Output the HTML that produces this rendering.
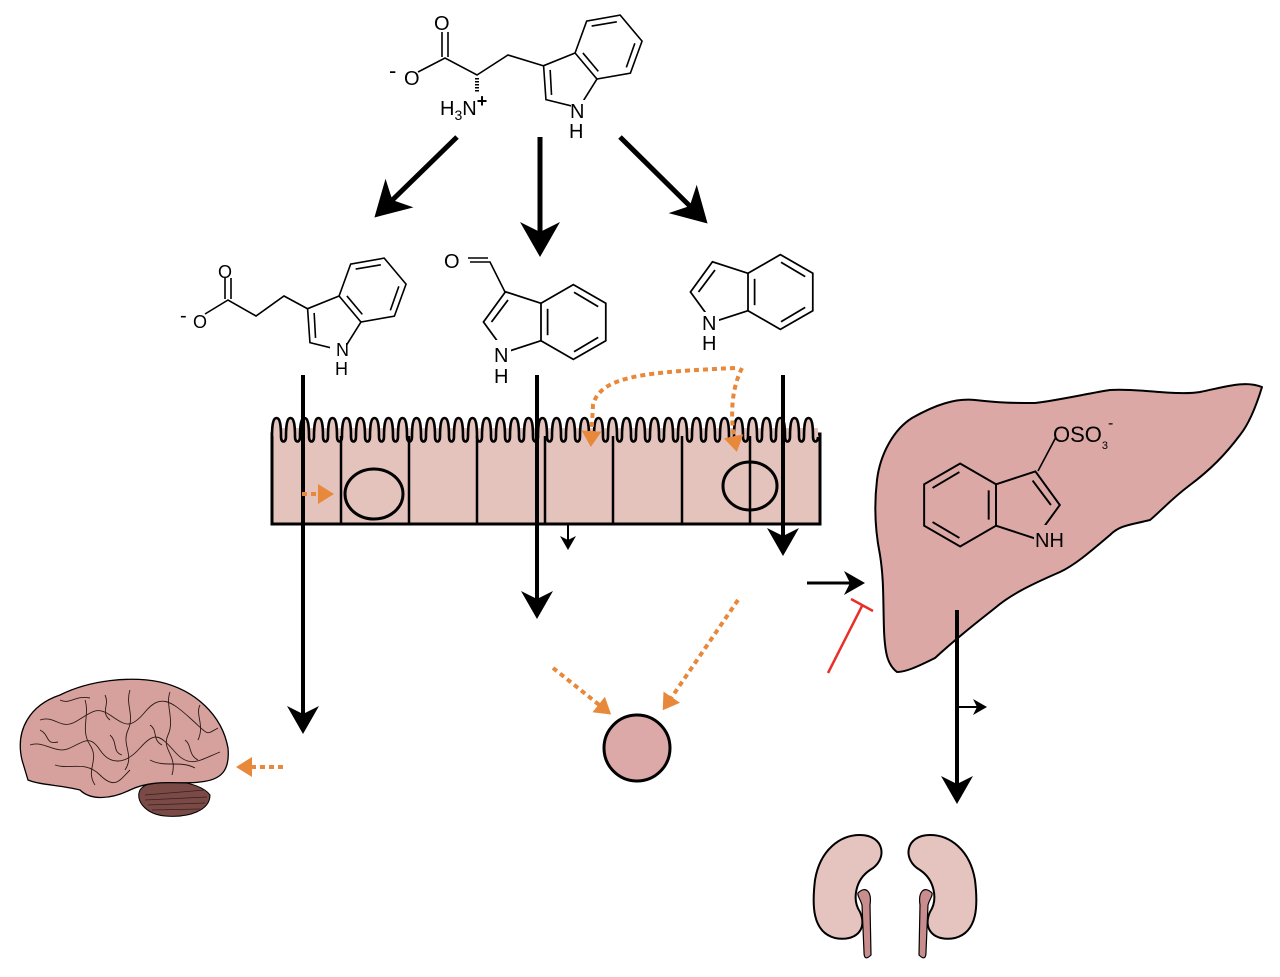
<!DOCTYPE html>
<html><head><meta charset="utf-8"><style>
html,body{margin:0;padding:0;background:#fff}
svg{display:block}
text{font-family:"Liberation Sans",sans-serif}
</style></head><body>
<svg width="1280" height="977" viewBox="0 0 1280 977" xmlns="http://www.w3.org/2000/svg">
<defs>
<g id="indole" fill="none" stroke="#000" stroke-width="1.6">
  <path d="M0,-17 L29.4,-34 L58.9,-17 L58.9,17 L29.4,34 L0,17 Z"/>
  <path d="M0,-17 L-32.3,-27.5 L-52.3,0 L-32.3,27.5 L0,17"/>
  <line x1="6" y1="-12" x2="6" y2="12"/>
  <line x1="30" y1="-27" x2="52" y2="-14"/>
  <line x1="52" y1="14" x2="30" y2="27"/>
  <line x1="-30" y1="-20" x2="-45" y2="0"/>
</g>
<path id="vil" d="M0,437 C0,425 1,418 4.5,418 C8,418 9,425 9,437 C9,443 14,443 14,437" fill="#e4c3bc" stroke="#000" stroke-width="2.6"/>
<marker id="ah" markerWidth="10" markerHeight="10" refX="6" refY="5" orient="auto" markerUnits="strokeWidth"><path d="M0,1 L7,5 L0,9 L2,5 Z" fill="#000"/></marker>
<marker id="ahs" markerWidth="10" markerHeight="10" refX="6" refY="5" orient="auto" markerUnits="strokeWidth"><path d="M0,1 L7,5 L0,9 L2,5 Z" fill="#000"/></marker>
<marker id="oh" markerWidth="6" markerHeight="6" refX="3" refY="3" orient="auto" markerUnits="strokeWidth"><path d="M0,0.5 L4,3 L0,5.5 Z" fill="#e8883a"/></marker>
</defs>

<!-- Tryptophan -->
<g transform="translate(586,66) rotate(-40)"><use href="#indole"/></g>
<g fill="none" stroke="#000" stroke-width="1.6">
<path d="M544,66 L508,55 L477,75 L445,58 L418,72"/>
<line x1="442" y1="57" x2="442" y2="32"/><line x1="448" y1="57" x2="448" y2="32"/>
<path d="M477,78 L477,92" stroke-dasharray="1.5 1.5" stroke-width="4"/>
</g>
<text x="434" y="30" font-size="20">O</text>
<text x="404" y="85" font-size="20">O</text>
<text x="389" y="78" font-size="22">-</text>
<text x="440" y="115" font-size="20">H<tspan font-size="14" dy="5">3</tspan><tspan dy="-5">N</tspan><tspan font-size="18" dy="-8" font-weight="bold">+</tspan></text>
<rect x="571" y="100" width="16" height="20" fill="#fff"/>
<text x="570" y="118" font-size="20">N</text>
<text x="569" y="138" font-size="20">H</text>

<!-- Indole-3-propionate -->
<g transform="translate(350,309) rotate(-40)"><use href="#indole"/></g>
<g fill="none" stroke="#000" stroke-width="1.6">
<path d="M308,309 L284,296 L256,316 L228,300 L205,314"/>
<line x1="225" y1="299" x2="225" y2="278"/><line x1="231" y1="299" x2="231" y2="278"/>
</g>
<rect x="330" y="340" width="16" height="18" fill="#fff"/>
<text x="218" y="278" font-size="18">O</text>
<text x="193" y="328" font-size="18">O</text>
<text x="180" y="322" font-size="20">-</text>
<text x="336" y="356" font-size="18">N</text>
<text x="335" y="375" font-size="18">H</text>

<!-- Indole-3-carbaldehyde -->
<g transform="translate(541,322) scale(1.1)"><use href="#indole"/></g>
<g fill="none" stroke="#000" stroke-width="1.6">
<path d="M505,292 L490,262 L470,262"/>
<line x1="468" y1="258" x2="488" y2="258"/>
</g>
<rect x="495" y="340" width="16" height="22" fill="#fff"/>
<text x="444" y="268" font-size="20">O</text>
<text x="494" y="362" font-size="20">N</text>
<text x="494" y="383" font-size="20">H</text>

<!-- Indole -->
<g transform="translate(748,292) scale(1.1)"><use href="#indole"/></g>
<rect x="703" y="312" width="16" height="20" fill="#fff"/>
<text x="702" y="330" font-size="20">N</text>
<text x="702" y="350" font-size="20">H</text>

<!-- Big arrows top -->
<g stroke="#000" stroke-width="5" fill="none">
<line x1="457" y1="137" x2="378" y2="214" marker-end="url(#ah)"/>
<line x1="540" y1="137" x2="540" y2="252" marker-end="url(#ah)"/>
<line x1="620" y1="137" x2="704" y2="220" marker-end="url(#ah)"/>
</g>

<!-- Intestine -->
<rect x="272" y="434" width="548" height="90" fill="#e4c3bc" stroke="#000" stroke-width="3"/>
<rect x="274" y="428" width="544" height="12" fill="#e4c3bc"/>
<g>
<use href="#vil" x="272"/><use href="#vil" x="286"/><use href="#vil" x="300"/><use href="#vil" x="314"/><use href="#vil" x="328"/>
<use href="#vil" x="342"/><use href="#vil" x="356"/><use href="#vil" x="370"/><use href="#vil" x="384"/><use href="#vil" x="398"/>
<use href="#vil" x="412"/><use href="#vil" x="426"/><use href="#vil" x="440"/><use href="#vil" x="454"/><use href="#vil" x="468"/>
<use href="#vil" x="482"/><use href="#vil" x="496"/><use href="#vil" x="510"/><use href="#vil" x="524"/><use href="#vil" x="538"/>
<use href="#vil" x="552"/><use href="#vil" x="566"/><use href="#vil" x="580"/><use href="#vil" x="594"/><use href="#vil" x="608"/>
<use href="#vil" x="622"/><use href="#vil" x="636"/><use href="#vil" x="650"/><use href="#vil" x="664"/><use href="#vil" x="678"/>
<use href="#vil" x="692"/><use href="#vil" x="706"/><use href="#vil" x="720"/><use href="#vil" x="734"/><use href="#vil" x="748"/>
<use href="#vil" x="762"/><use href="#vil" x="776"/><use href="#vil" x="790"/><use href="#vil" x="804"/>
</g>
<line x1="272" y1="436" x2="272" y2="524" stroke="#000" stroke-width="3"/>
<line x1="820" y1="436" x2="820" y2="524" stroke="#000" stroke-width="3"/>
<g stroke="#000" stroke-width="2.5">
<line x1="341" y1="436" x2="341" y2="524"/><line x1="409" y1="436" x2="409" y2="524"/>
<line x1="477" y1="436" x2="477" y2="524"/><line x1="545" y1="436" x2="545" y2="524"/>
<line x1="613" y1="436" x2="613" y2="524"/><line x1="682" y1="436" x2="682" y2="524"/>
<line x1="750" y1="436" x2="750" y2="524"/>
</g>
<ellipse cx="374" cy="494" rx="29" ry="25" fill="none" stroke="#000" stroke-width="3"/>
<ellipse cx="750" cy="486" rx="27" ry="24" fill="none" stroke="#000" stroke-width="3"/>

<!-- vertical arrows -->
<g stroke="#000" stroke-width="4" fill="none">
<line x1="303" y1="375" x2="303" y2="730" marker-end="url(#ah)"/>
<line x1="537" y1="375" x2="537" y2="615" marker-end="url(#ah)"/>
<line x1="783" y1="375" x2="783" y2="552" marker-end="url(#ah)"/>
<line x1="957" y1="610" x2="957" y2="800" marker-end="url(#ah)"/>
</g>
<g stroke="#000" stroke-width="2" fill="none">
<line x1="568" y1="524" x2="568" y2="548" marker-end="url(#ahs)"/>
<line x1="957" y1="707" x2="985" y2="707" marker-end="url(#ahs)"/>
</g>
<line x1="807" y1="583" x2="862" y2="583" stroke="#000" stroke-width="3" marker-end="url(#ahs)"/>

<!-- Liver -->
<path d="M1262,387 C1255,410 1248,425 1240,435 C1225,455 1210,470 1190,485 C1170,500 1160,512 1150,520 C1130,525 1120,525 1110,535 C1090,552 1075,565 1060,572 C1030,585 1010,595 995,608 C980,620 960,635 935,658 C915,668 905,672 897,672 C888,665 885,655 884,630 C883,600 884,580 880,555 C875,530 874,505 877,480 C880,455 893,430 912,418 C935,405 955,398 975,400 C1000,403 1015,403 1035,403 C1060,400 1090,393 1110,390 C1140,388 1175,396 1200,392 C1225,387 1245,380 1262,387 Z" fill="#dba8a6" stroke="#000" stroke-width="2" stroke-linejoin="round"/>
<line x1="957" y1="610" x2="957" y2="650" stroke="#000" stroke-width="4"/>
<g transform="translate(996,505) scale(-1.22,1.22)"><use href="#indole"/></g>
<line x1="1038" y1="471" x2="1056" y2="437" stroke="#000" stroke-width="1.6"/>
<text x="1053" y="442" font-size="22">OSO<tspan font-size="11" dy="7">3</tspan></text>
<text x="1108" y="428" font-size="16">-</text>
<rect x="1034" y="525" width="38" height="22" fill="#dba8a6"/>
<text x="1035" y="547" font-size="20" font-family="Liberation Serif, serif">NH</text>

<!-- Red inhibition -->
<g stroke="#e8302a" stroke-width="2.5">
<line x1="828" y1="673" x2="862" y2="606"/>
<line x1="851" y1="599" x2="873" y2="611"/>
</g>

<!-- Orange dotted arrows -->
<g stroke="#e8883a" stroke-width="4" stroke-dasharray="5 4" fill="none">
<line x1="302" y1="494" x2="330" y2="494" marker-end="url(#oh)"/>
<path d="M735,368 C650,372 600,375 593,405 L591,443" marker-end="url(#oh)"/>
<path d="M742,368 Q726,400 736,448" marker-end="url(#oh)"/>
<line x1="738" y1="600" x2="665" y2="707" marker-end="url(#oh)"/>
<line x1="553" y1="668" x2="608" y2="712" marker-end="url(#oh)"/>
<line x1="283" y1="767" x2="240" y2="767" marker-end="url(#oh)"/>
</g>

<circle cx="637" cy="748" r="33" fill="#dca8a8" stroke="#000" stroke-width="3"/>

<!-- Brain -->
<path d="M140,790 C150,775 200,780 210,795 C210,810 190,818 165,816 C145,814 135,800 140,790 Z" fill="#7a4a46" stroke="#000" stroke-width="1"/>
<g stroke="#3a1e1c" stroke-width="0.8">
<line x1="145" y1="795" x2="205" y2="790"/><line x1="145" y1="800" x2="207" y2="797"/><line x1="148" y1="805" x2="205" y2="803"/><line x1="152" y1="810" x2="200" y2="809"/>
</g>
<path d="M22,760 C15,730 30,705 60,695 C90,680 130,676 160,682 C195,690 222,715 228,748 C230,770 222,780 200,782 C180,785 155,778 130,790 C110,800 90,800 80,790 C60,785 40,785 28,780 Z" fill="#d6a19c" stroke="#000" stroke-width="1.3"/>
<g fill="none" stroke="#2a1a18" stroke-width="0.9">
<path d="M40,720 C55,715 60,730 75,722 S95,705 110,715 S130,730 145,712 S170,700 190,718 S205,735 218,728"/>
<path d="M30,745 C45,740 55,755 70,748 S90,735 100,750 S125,765 140,748 S160,735 175,752 S200,760 220,752"/>
<path d="M85,700 C90,715 80,730 90,745 S85,770 95,785"/>
<path d="M130,690 C125,705 135,715 128,730 S135,755 125,770"/>
<path d="M170,692 C165,705 175,720 168,735 S178,755 172,775"/>
<path d="M55,765 C70,770 85,760 100,775 S120,780 130,770"/>
<path d="M60,700 C70,705 75,695 90,698"/><path d="M150,760 C165,768 180,760 195,768"/>
<path d="M105,695 C110,705 100,712 110,720"/><path d="M200,705 C195,715 205,725 198,740"/>
<path d="M40,730 C50,735 45,745 58,742"/><path d="M110,735 C118,742 112,752 122,755"/>
<path d="M150,725 C158,730 152,740 162,745"/><path d="M185,740 C192,745 188,755 198,760"/>
</g>

<!-- Kidneys -->
<path d="M860,835 C885,835 888,860 870,870 C855,880 852,900 860,912 C868,930 855,942 835,938 C812,932 812,905 815,880 C820,850 840,835 860,835 Z" fill="#e5c4bf" stroke="#000" stroke-width="2"/>
<path d="M858,893 C866,885 872,892 870,905 L871,955 C866,960 864,958 864,952 L862,905 C860,898 857,896 858,893 Z" fill="#c98d8d" stroke="#000" stroke-width="1.2"/>
<path d="M930,835 C905,835 902,860 920,870 C935,880 938,900 930,912 C922,930 935,942 955,938 C978,932 978,905 975,880 C970,850 950,835 930,835 Z" fill="#e5c4bf" stroke="#000" stroke-width="2"/>
<path d="M932,893 C924,885 918,892 920,905 L919,955 C924,960 926,958 926,952 L928,905 C930,898 933,896 932,893 Z" fill="#c98d8d" stroke="#000" stroke-width="1.2"/>
</svg>
</body></html>
